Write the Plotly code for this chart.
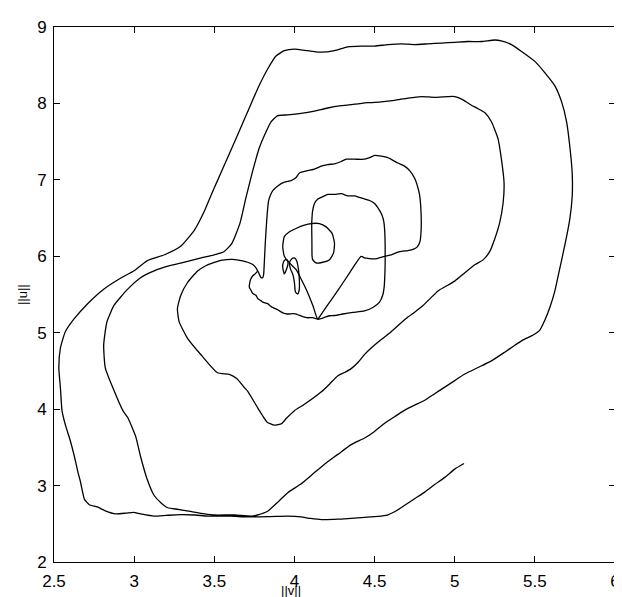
import plotly.graph_objects as go

# Axis ticks and labels
x_ticks = [2.5, 3, 3.5, 4, 4.5, 5, 5.5, 6]
x_tick_labels = ["2.5", "3", "3.5", "4", "4.5", "5", "5.5", "6"]
y_ticks = [2, 3, 4, 5, 6, 7, 8, 9]
y_tick_labels = ["2", "3", "4", "5", "6", "7", "8", "9"]
x_title = "||v||"
y_title = "||u||"

# Trajectory pieces, (||v||, ||u||) pairs
outer_spiral = [
    (5.058, 3.288), (5.0, 3.215), (4.938, 3.107), (4.875, 3.013), (4.813, 2.914), (4.75, 2.828),
    (4.688, 2.742), (4.625, 2.657), (4.583, 2.618), (4.521, 2.596), (4.438, 2.584), (4.354, 2.572),
    (4.271, 2.56), (4.17, 2.555), (4.10, 2.57), (4.04, 2.59), (3.96, 2.60), (3.85, 2.595), (3.71, 2.59),
    (3.60, 2.60), (3.46, 2.60), (3.38, 2.615), (3.29, 2.62), (3.20, 2.61), (3.125, 2.60), (3.04, 2.63),
    (2.996, 2.65), (2.95, 2.64), (2.885, 2.63), (2.82, 2.67), (2.77, 2.72), (2.72, 2.75), (2.69, 2.82),
    (2.68, 2.90), (2.665, 3.05), (2.65, 3.17), (2.625, 3.40), (2.60, 3.60), (2.57, 3.80), (2.55, 3.98),
    (2.54, 4.28), (2.53, 4.54), (2.54, 4.80), (2.57, 5.01), (2.625, 5.18), (2.71, 5.38), (2.81, 5.57),
    (2.92, 5.72), (3.0, 5.81), (3.08, 5.94), (3.19, 6.02), (3.29, 6.13), (3.375, 6.34), (3.44, 6.60),
    (3.48, 6.80), (3.52, 6.99), (3.583, 7.29), (3.646, 7.59), (3.708, 7.89), (3.77, 8.19), (3.833, 8.45),
    (3.885, 8.62), (3.937, 8.69), (4.0, 8.71), (4.083, 8.69), (4.167, 8.67), (4.25, 8.69), (4.333, 8.74),
    (4.417, 8.75), (4.5, 8.75), (4.583, 8.77), (4.667, 8.78), (4.75, 8.77), (4.833, 8.78), (4.917, 8.79),
    (5.0, 8.80), (5.083, 8.81), (5.167, 8.81), (5.25, 8.83), (5.29, 8.82), (5.354, 8.77), (5.417, 8.68),
    (5.5, 8.55), (5.563, 8.40), (5.625, 8.23), (5.667, 8.02), (5.698, 7.76), (5.719, 7.42), (5.733, 7.085),
    (5.733, 6.786), (5.718, 6.487), (5.687, 6.145), (5.656, 5.846), (5.625, 5.547), (5.594, 5.333),
    (5.562, 5.162), (5.531, 5.034), (5.49, 4.97), (5.427, 4.906), (5.364, 4.82), (5.312, 4.745),
    (5.229, 4.631), (5.146, 4.545), (5.063, 4.459), (5.0, 4.373), (4.938, 4.288), (4.875, 4.202),
    (4.813, 4.116), (4.75, 4.052), (4.688, 3.987), (4.625, 3.901), (4.563, 3.815), (4.5, 3.708),
    (4.438, 3.622), (4.354, 3.536), (4.271, 3.408), (4.20, 3.30), (4.125, 3.17), (4.04, 3.02), (3.96, 2.91),
    (3.90, 2.79), (3.83, 2.66), (3.77, 2.615), (3.73, 2.60), (3.625, 2.615), (3.50, 2.615), (3.44, 2.63),
    (3.33, 2.67), (3.27, 2.69), (3.21, 2.71), (3.17, 2.77), (3.125, 2.87), (3.08, 3.09), (3.04, 3.38),
    (3.01, 3.64), (2.96, 3.89), (2.93, 3.98), (2.875, 4.24), (2.82, 4.54), (2.81, 4.84), (2.83, 5.14),
    (2.875, 5.36), (2.96, 5.57), (3.04, 5.72), (3.125, 5.81), (3.21, 5.87), (3.29, 5.91), (3.40, 5.97),
    (3.5, 6.02), (3.56, 6.06), (3.61, 6.17), (3.66, 6.43), (3.698, 6.77), (3.74, 7.12), (3.781, 7.42),
    (3.823, 7.63), (3.854, 7.76), (3.896, 7.84), (3.958, 7.85), (4.042, 7.87), (4.125, 7.90), (4.208, 7.94),
    (4.292, 7.97), (4.375, 7.99), (4.458, 8.01), (4.542, 8.02), (4.625, 8.04), (4.708, 8.07), (4.792, 8.09),
    (4.875, 8.08), (4.958, 8.09), (5.0, 8.09), (5.04, 8.06), (5.094, 7.99), (5.146, 7.93), (5.187, 7.88),
    (5.229, 7.76), (5.27, 7.54), (5.29, 7.29), (5.308, 6.957), (5.302, 6.70), (5.281, 6.444), (5.25, 6.23),
    (5.218, 6.06), (5.177, 5.953), (5.125, 5.889), (5.062, 5.782), (5.0, 5.675), (4.937, 5.598),
    (4.896, 5.547), (4.854, 5.462), (4.802, 5.355), (4.75, 5.269), (4.708, 5.205), (4.65, 5.10),
    (4.594, 4.996), (4.542, 4.91), (4.479, 4.80), (4.438, 4.717), (4.396, 4.61), (4.354, 4.53),
    (4.313, 4.48), (4.271, 4.438), (4.22, 4.33), (4.17, 4.23), (4.06, 4.06), (4.0, 3.98), (3.95, 3.88),
    (3.92, 3.81), (3.875, 3.79), (3.83, 3.83), (3.80, 3.92), (3.77, 4.02), (3.71, 4.23), (3.6875, 4.283),
    (3.64, 4.40), (3.594, 4.455), (3.52, 4.476), (3.417, 4.712), (3.333, 4.927), (3.281, 5.142),
    (3.27, 5.313), (3.29, 5.485), (3.333, 5.657), (3.396, 5.807), (3.45, 5.88), (3.5, 5.92), (3.55, 5.95),
    (3.614, 5.96), (3.677, 5.94), (3.708, 5.922), (3.74, 5.892), (3.76, 5.849), (3.771, 5.806),
]

third_loop = [
    (3.771, 5.806), (3.777, 5.785), (3.785, 5.745), (3.792, 5.72), (3.802, 5.72), (3.808, 5.763),
    (3.812, 5.913), (3.817, 6.128), (3.823, 6.342), (3.83, 6.55), (3.838, 6.72), (3.85, 6.80),
    (3.865, 6.86), (3.896, 6.92), (3.937, 6.97), (3.979, 6.99), (4.01, 7.03), (4.031, 7.09), (4.083, 7.12),
    (4.125, 7.14), (4.167, 7.18), (4.208, 7.20), (4.25, 7.21), (4.292, 7.24), (4.323, 7.27), (4.375, 7.27),
    (4.437, 7.27), (4.469, 7.29), (4.5, 7.32), (4.542, 7.31), (4.583, 7.29), (4.646, 7.22), (4.687, 7.18),
    (4.719, 7.12), (4.75, 7.02), (4.77, 6.90), (4.781, 6.80), (4.79, 6.57), (4.79, 6.32), (4.783, 6.19),
    (4.765, 6.12), (4.74, 6.09), (4.708, 6.075), (4.656, 6.06), (4.604, 6.02), (4.562, 6.0), (4.5, 5.965),
    (4.437, 5.98), (4.416, 6.0), (4.34, 5.77), (4.27, 5.55), (4.20, 5.34), (4.146, 5.176),
]

wiggly_loop = [
    (3.771, 5.806), (3.755, 5.77), (3.739, 5.742), (3.725, 5.69), (3.72, 5.635), (3.718, 5.60),
    (3.73, 5.55), (3.739, 5.515), (3.76, 5.49), (3.77, 5.45), (3.79, 5.42), (3.802, 5.40), (3.833, 5.38),
    (3.85, 5.35), (3.864, 5.33), (3.896, 5.30), (3.915, 5.275), (3.927, 5.26), (3.958, 5.245),
    (3.99, 5.25), (4.005, 5.245), (4.021, 5.235), (4.052, 5.21), (4.083, 5.196), (4.114, 5.197),
    (4.146, 5.176),
]

inner_loop = [
    (4.146, 5.176), (4.187, 5.20), (4.219, 5.222), (4.25, 5.225), (4.302, 5.245), (4.365, 5.265),
    (4.437, 5.285), (4.489, 5.33), (4.531, 5.40), (4.552, 5.50), (4.56, 5.60), (4.564, 5.75),
    (4.566, 5.91), (4.566, 6.13), (4.563, 6.34), (4.557, 6.46), (4.546, 6.54), (4.531, 6.60), (4.5, 6.69),
    (4.469, 6.73), (4.437, 6.75), (4.406, 6.77), (4.375, 6.79), (4.333, 6.79), (4.292, 6.82), (4.25, 6.81),
    (4.208, 6.81), (4.177, 6.78), (4.146, 6.75), (4.125, 6.69), (4.114, 6.60), (4.108, 6.43),
    (4.109, 6.2), (4.11, 6.0), (4.114, 5.956), (4.135, 5.913), (4.177, 5.922), (4.219, 5.956),
    (4.244, 6.042), (4.25, 6.171), (4.235, 6.30), (4.198, 6.385), (4.156, 6.428), (4.104, 6.428),
    (4.062, 6.407), (4.01, 6.364), (3.969, 6.321), (3.937, 6.257), (3.927, 6.128), (3.937, 6.0),
    (3.969, 5.913), (4.01, 5.828), (4.042, 5.70), (4.073, 5.57), (4.115, 5.356), (4.146, 5.176),
]

hook_left = [
    (3.937, 5.763), (3.927, 5.849), (3.931, 5.922), (3.944, 5.956), (3.956, 5.948), (3.96, 5.905),
    (3.952, 5.836), (3.94, 5.776),
]

hook_right = [
    (3.969, 5.913), (3.983, 5.965), (4.0, 5.978), (4.015, 5.935), (4.025, 5.828), (4.031, 5.678),
    (4.029, 5.549), (4.019, 5.506), (4.006, 5.536), (4.0, 5.656), (3.99, 5.763), (3.975, 5.836),
    (3.969, 5.913),
]

segments = [outer_spiral, third_loop, wiggly_loop, inner_loop, hook_left, hook_right]

fig = go.Figure()
for seg in segments:
    xs = [p[0] for p in seg]
    ys = [p[1] for p in seg]
    fig.add_trace(go.Scatter(
        x=xs, y=ys, mode="lines",
        line=dict(color="black", width=1.3, shape="spline", smoothing=0.5),
        hoverinfo="skip", showlegend=False,
    ))

tick_font = "Liberation Sans, Arial, sans-serif"
title_font = "Liberation Sans, Arial, sans-serif"

fig.update_layout(
    width=622, height=597,
    margin=dict(l=46, r=14, t=10, b=43),
    plot_bgcolor="white", paper_bgcolor="white",
    showlegend=False,
    font=dict(family=tick_font, size=17, color="black"),
)
axis_common = dict(
    ticks="inside", ticklen=6, tickwidth=1, tickcolor="black",
    showline=True, linecolor="black", linewidth=1, mirror="ticks",
    showgrid=False, zeroline=False, ticklabeloverflow="allow",
    tickfont=dict(family=tick_font, size=17, color="black"),
)
fig.update_xaxes(range=[2.5, 6], tickvals=x_ticks, ticktext=x_tick_labels,
                 ticklabelstandoff=4, **axis_common)
fig.update_yaxes(range=[2, 9], tickvals=y_ticks, ticktext=y_tick_labels,
                 ticklabelstandoff=3, **axis_common)

fig.add_annotation(text=x_title, x=3.98, xref="x", y=-0.054, yref="paper",
                   showarrow=False, yanchor="middle", xanchor="center",
                   font=dict(family=title_font, size=13, color="black"))
fig.add_annotation(text=y_title, x=-0.056, xref="paper", y=0.5, yref="paper",
                   showarrow=False, textangle=-90, xanchor="center", yanchor="middle",
                   font=dict(family=title_font, size=13, color="black"))

fig.write_html("out.html", config={"displayModeBar": False})
